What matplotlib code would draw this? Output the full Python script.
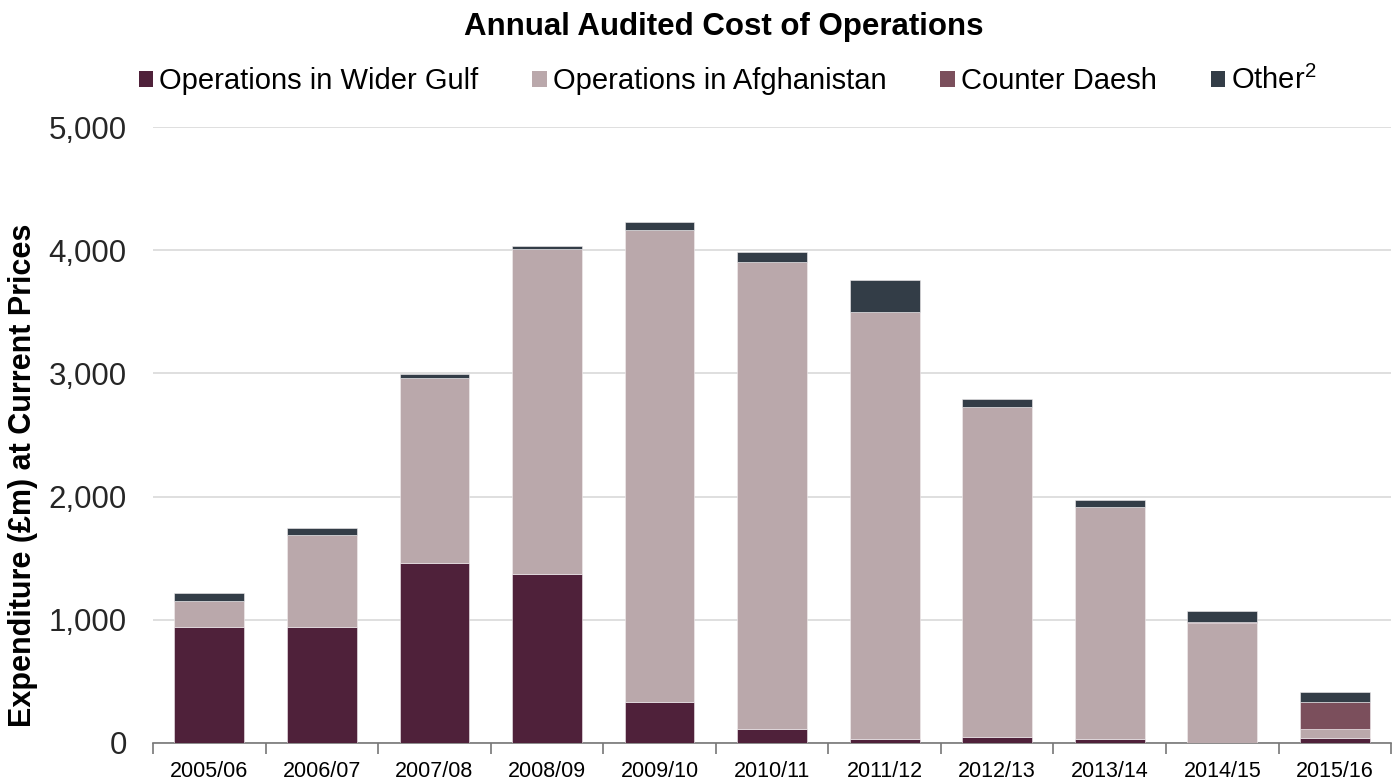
#!/usr/bin/env python3
"""Annual audited cost of operations - stacked bar chart."""

import matplotlib
matplotlib.use("Agg")
import matplotlib.pyplot as plt
import numpy as np
from matplotlib.patches import Patch

years = ["2005/06", "2006/07", "2007/08", "2008/09", "2009/10", "2010/11",
         "2011/12", "2012/13", "2013/14", "2014/15", "2015/16"]
wider_gulf = [944, 944, 1461, 1372, 333, 114, 32, 49, 32, 0, 38]
afghanistan = [211, 744, 1502, 2638, 3831, 3790, 3466, 2678, 1884, 971, 73]
counter_daesh = [0, 0, 0, 0, 0, 0, 0, 0, 0, 10, 222]
other = [60, 57, 32, 24, 62, 84, 258, 65, 56, 90, 81]

series = [
    ("Operations in Wider Gulf", wider_gulf, "#4f213a"),
    ("Operations in Afghanistan", afghanistan, "#baa8ab"),
    ("Counter Daesh", counter_daesh, "#7b4f5c"),
    ("Other$^2$", other, "#333d47"),
]


def main():
    plt.rcParams.update({
        "font.family": ["Liberation Sans", "DejaVu Sans"],
        "mathtext.fontset": "custom",
        "mathtext.rm": "Liberation Sans",
        "mathtext.it": "Liberation Sans",
    })
    fig = plt.figure(figsize=(13.99, 7.83), dpi=100)
    ax = fig.add_axes([0.1094, 0.0511, 0.885, 0.7867])

    x = np.arange(len(years))
    bottom = np.zeros(len(years))
    for name, vals, col in series:
        vals = np.array(vals, dtype=float)
        ax.bar(x, vals, width=0.62, bottom=bottom, color=col, label=name,
               edgecolor="#f2eef0", linewidth=0.4, zorder=3)
        bottom += vals

    ax.set_xlim(-0.5, len(years) - 0.5)
    ax.set_ylim(0, 5000)
    ax.set_yticks(np.arange(0, 5001, 1000))
    ax.set_yticklabels([f"{v:,}" for v in range(0, 5001, 1000)])
    ax.yaxis.grid(True, color="#d9d9d9", linewidth=1.2, zorder=0)
    ax.set_axisbelow(True)

    ax.set_xticks(x)
    ax.set_xticklabels(years)
    ax.set_xticks(np.arange(-0.5, len(years), 1), minor=True)
    ax.tick_params(axis="x", which="major", length=0, labelsize=15.5, pad=13)
    ax.tick_params(axis="x", which="minor", length=8, color="#777777", width=1.2)
    ax.tick_params(axis="y", length=0, labelsize=22.5, pad=19, labelcolor="#262626")

    for s in ("left", "right", "top"):
        ax.spines[s].set_visible(False)
    ax.spines["bottom"].set_color("#777777")
    ax.spines["bottom"].set_linewidth(1.2)

    ax.set_ylabel("Expenditure (£m) at Current Prices", fontsize=22,
                  fontweight="bold")
    ax.yaxis.set_label_coords(-0.093, 0.435)

    fig.text(0.517, 0.966, "Annual Audited Cost of Operations", ha="center",
             va="center", fontsize=22.5, fontweight="bold")

    handles = [Patch(facecolor=c, edgecolor="none") for _, _, c in series]
    labels = [n for n, _, _ in series]
    fig.legend(handles, labels, loc="center", bbox_to_anchor=(0.52, 0.897),
               ncol=4, frameon=False, fontsize=21, handlelength=0.5,
               handleheight=0.5, handletextpad=0.2, columnspacing=1.85)

    fig.savefig("out.png", dpi=100)


if __name__ == "__main__":
    main()
